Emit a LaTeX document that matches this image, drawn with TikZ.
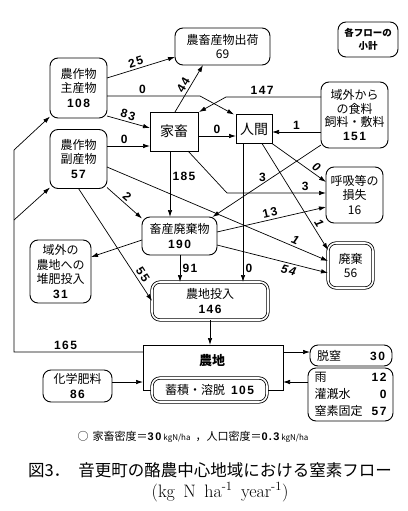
\documentclass[tikz,border=0pt]{standalone}
\usepackage{fontspec}
\newfontfamily\jp{Noto Sans CJK JP}
\newfontfamily\numf{Liberation Sans}[LetterSpace=12]
\usetikzlibrary{arrows.meta,calc}
\newcommand\NB[1]{{\numf\bfseries #1}}
\begin{document}
\begin{tikzpicture}[x=1pt,y=-1pt,
  every node/.style={inner sep=0pt,outer sep=0pt},
  box/.style={draw,line width=0.9pt,rounded corners=8pt,align=center,fill=white,
    font=\jp\fontsize{12}{14.5}\selectfont},
  sq/.style={draw,line width=0.9pt,align=center,fill=white,font=\jp\fontsize{14}{16}\selectfont},
  dbl/.style={box,double,double distance=1.6pt,line width=0.8pt},
  flow/.style={line width=0.7pt,-{Latex[length=7pt,width=4.5pt]}},
  lab/.style={font=\numf\bfseries\fontsize{12}{13}\selectfont,inner sep=2.5pt},
  ilab/.style={font=\numf\bfseries\itshape\fontsize{12}{13}\selectfont,inner sep=2.5pt},
]
\useasboundingbox (0,0) rectangle (407,511);

% nodes
\node[box,minimum width=57pt,minimum height=60pt] (main) at (78.5,88) {農作物\\主産物\\\NB{108}};
\node[box,minimum width=57pt,minimum height=59pt] (by) at (78.5,159) {農作物\\副産物\\\NB{57}};
\node[box,minimum width=95pt,minimum height=37pt,font=\jp\fontsize{12}{14}\selectfont] (ship) at (222.5,46.5) {農畜産物出荷\\69};
\node[box,minimum width=60pt,minimum height=35pt,font=\jp\bfseries\fontsize{9.5}{13}\selectfont] (legend) at (368,39.5) {各フローの\\小計};
\node[sq,minimum width=48pt,minimum height=39pt] (live) at (174,131.5) {家畜};
\node[sq,minimum width=36pt,minimum height=29pt] (human) at (254,129) {人間};
\node[box,minimum width=67pt,minimum height=66pt,font=\jp\fontsize{12}{13.5}\selectfont] (outside) at (354.5,115) {域外から\\の食料\\飼料・敷料\\\NB{151}};
\node[box,minimum width=57pt,minimum height=56pt] (resp) at (354.5,195) {呼吸等の\\損失\\16};
\node[box,minimum width=75pt,minimum height=38pt] (waste) at (179.5,236) {畜産廃棄物\\\NB{190}};
\node[box,minimum width=61pt,minimum height=63pt] (compost) at (60.5,271.5) {域外の\\農地への\\堆肥投入\\\NB{31}};
\node[dbl,minimum width=45pt,minimum height=45pt] (disp) at (350.5,265.5) {廃棄\\56};
\node[dbl,minimum width=116pt,minimum height=38pt] (fieldin) at (210,301) {農地投入\\\NB{146}};
\node[draw,line width=0.9pt,minimum width=140pt,minimum height=45pt] (field) at (213,367.5) {};
\node[font=\jp\bfseries\fontsize{13}{14}\selectfont] (fieldlab) at (212,361) {農地};
\node[dbl,minimum width=115pt,minimum height=24pt] (accum) at (209.5,390) {蓄積・溶脱\hspace{6pt}\NB{105}};
\node[box,minimum width=82pt,minimum height=21pt] (denit) at (351,355.5) {\makebox[68pt]{脱窒\hfill\NB{30}}};
\node[box,minimum width=69pt,minimum height=32pt] (chem) at (77.5,386) {化学肥料\\\NB{86}};
\node[box,minimum width=85pt,minimum height=53pt,font=\jp\fontsize{12}{17}\selectfont] (rain) at (350.5,394.5)
  {\makebox[72pt]{雨\hfill\NB{12}}\\\makebox[72pt]{灌漑水\hfill\NB{0}}\\\makebox[72pt]{窒素固定\hfill\NB{57}}};

\node[font=\jp\fontsize{11}{12}\selectfont] (note) at (193,437)
  {○\hspace{4pt}家畜密度＝\NB{3\,0}\,{\fontsize{8}{9}\selectfont kgN/ha}\hspace{5pt}，人口密度＝\NB{0.3}\,{\fontsize{8}{9}\selectfont kgN/ha}};
\node[font=\jp\fontsize{16.5}{18}\selectfont] (cap1) at (210,470) {図3．\hspace{0.5em}音更町の酪農中心地域における窒素フロー};
\node[font=\fontsize{18}{20}\selectfont] (cap2) at (220,492) {(kg\hspace{3pt} N\hspace{3pt} ha\textsuperscript{-1}\hspace{3pt} year\textsuperscript{-1})};

% bend points
\coordinate (k1) at (200,96);
\coordinate (k2) at (226,97);
\coordinate (k3) at (227,193);
\coordinate (c1) at (14,352);
\coordinate (c2) at (14,150);
\coordinate (c3) at (14,220);

% connectors
\draw[flow] (main.east |- 0,78) -- node[lab,sloped,above,pos=0.45]{25} (ship.west |- 0,57);
\draw[flow] (main.east |- 0,96) -- node[lab,above,pos=0.38]{0} (k1) -- ([xshift=-2pt]human.north west);
\draw[flow] (outside.west |- 0,97) -- node[lab,above,pos=0.62]{147} (k2) -- ([xshift=1pt]live.north east);
\draw[flow] (main.east |- 0,116) -- node[lab,sloped,above,pos=0.45]{83} (live.west |- 0,128);
\draw[flow] (by.east |- 0,146) -- node[lab,above,pos=0.4]{0} (live.west |- 0,146);
\draw[flow] (live.north -| 175,0) -- node[lab,sloped,above,pos=0.5]{44} (ship.south -| 203,0);
\draw[flow] (live.east |- 0,136) -- node[lab,above]{0} (human.west |- 0,136);
\draw[flow] (outside.west |- 0,132) -- node[lab,above]{1} (human.east |- 0,132);
\draw[flow] (live.south -| 170,0) -- node[lab,right,pos=0.38]{185} (waste.north -| 170,0);
\draw[flow] (live.south -| 188,0) -- (k3) -- node[lab,above,pos=0.79]{3} (resp.west |- 0,193);
\draw[flow] (human.south -| 243,0) -- node[lab,right,pos=0.9]{0} (fieldin.north -| 243,0);
\draw[flow] (human.south -| 262,0) -- node[ilab,sloped,above,pos=0.78]{1} (disp.west |- 0,250);
\draw[flow] (human.south east) -- node[ilab,sloped,above,pos=0.75]{0} (resp.west |- 0,182);
\draw[flow] (outside.west |- 0,145) -- node[lab,above,pos=0.54]{3} (waste.30);
\draw[flow] (waste.east |- 0,232) -- node[lab,sloped,above,pos=0.5]{13} (resp.west |- 0,207);
\draw[flow] (by.east |- 0,167) -- node[ilab,sloped,above,pos=0.84]{1} (disp.west |- 0,261);
\draw[flow] (waste.east |- 0,245) -- node[ilab,sloped,below,pos=0.66]{54} (disp.west |- 0,273);
\draw[flow] (by.-45) -- node[lab,sloped,above,pos=0.45]{2} (waste.155);
\draw[flow] (by.south) -- node[lab,sloped,above,pos=0.8]{55} (fieldin.west);
\draw[flow] (waste.west |- 0,240) -- (compost.east |- 0,257);
\draw[flow] (waste.south -| 180,0) -- node[lab,right,pos=0.5]{91} (fieldin.north -| 180,0);
\draw[flow] (fieldin.south -| 210,0) -- (field.north -| 210,0);
\draw[flow] (field.west |- 0,352) -- node[lab,above,pos=0.6]{165} (c1) -- (c2) -- (main.-135);
\draw[flow] (c3) -- (by.-135);
\draw[flow] (field.east |- 0,352) -- (denit.west |- 0,352);
\draw[flow] (chem.east |- 0,382) -- (field.west |- 0,382);
\draw[flow] (rain.west |- 0,382) -- (field.east |- 0,382);
\end{tikzpicture}
\end{document}
